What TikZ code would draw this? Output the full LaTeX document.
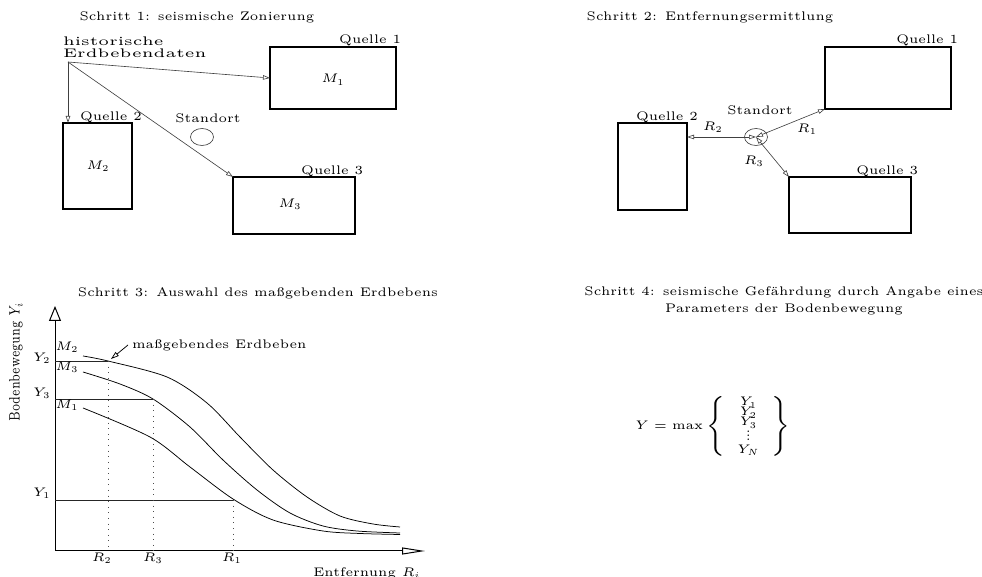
\RequirePackage{fix-cm}
\documentclass[tikz,border=0pt]{standalone}
\usepackage{graphicx}
\usetikzlibrary{arrows.meta,fit,shapes.geometric}
\DeclareMathSizes{5}{5}{3.6}{3}
\newcommand{\smvdots}{\vbox{\baselineskip1.7bp\lineskiplimit0pt\kern0.3bp\hbox{.}\hbox{.}\hbox{.}}}
\newcommand{\rowbox}[3]{\smash{#1}\rule[-#3]{0pt}{\dimexpr#2+#3\relax}}
\begin{document}
\begin{tikzpicture}[x=0.4bp,y=-0.4bp,
  every node/.style={font=\fontsize{5}{6.8}\selectfont, inner sep=0pt, outer sep=0pt},
  box/.style={draw, line width=0.45bp, inner sep=0pt},
  conn/.style={draw=black!75, line width=0.25bp, -{Triangle[open,length=2.8bp,width=1.8bp]}},
  dconn/.style={draw=black!75, line width=0.25bp, {Triangle[open,length=2.8bp,width=1.8bp]}-{Triangle[open,length=2.8bp,width=1.8bp]}},
  site/.style={draw=black!75, line width=0.25bp, ellipse, minimum width=9.2bp, minimum height=6.8bp},
  curve/.style={line width=0.3bp, smooth, tension=0.5},
  guide/.style={draw=black!70, line width=0.25bp, dotted},
  level/.style={draw=black!85, line width=0.3bp}]
\useasboundingbox (0,0) rectangle (982,577);

% ---------------- Panel 1 ----------------
\node (t1) at (197,17) {Schritt 1: seismische Zonierung};
\node[anchor=west, align=left, font=\fontsize{5}{4.8}\selectfont] (hist) at (63,47) {\scalebox{1.27}[1]{historische}\\\scalebox{1.27}[1]{Erdbebendaten}};
\coordinate (src) at (68,62);
\node[box, fit={(270,47) (396,109)}] (q1) {};
\node (m1) at (333,80) {$M_1$};
\node[anchor=base east] (lq1) at (401,44) {Quelle 1};
\node[box, fit={(63,123) (132,209)}] (q2) {};
\node (m2) at (98,166) {$M_2$};
\node[anchor=base west] (lq2) at (80,120.5) {Quelle 2};
\node[box, fit={(233,177) (355,234)}] (q3) {};
\node (m3) at (290,204) {$M_3$};
\node[anchor=base east] (lq3) at (363,175) {Quelle 3};
\node (s1) at (208,118) {Standort};
\node[site] (c1) at (202,137) {};
\draw[conn] (src) -- (q1.west);
\draw[conn] (src) -- (src |- q2.north);
\draw[conn] (src) -- (q3.north west);

% ---------------- Panel 2 ----------------
\node (t2) at (710,17) {Schritt 2: Entfernungsermittlung};
\node[box, fit={(825,47) (951,109)}] (p1) {};
\node[anchor=base east] (lp1) at (958,44) {Quelle 1};
\node[box, fit={(618,123) (687,210)}] (p2) {};
\node[anchor=base west] (lp2) at (636,121) {Quelle 2};
\node[box, fit={(789,177) (911,233)}] (p3) {};
\node[anchor=base east] (lp3) at (918,175) {Quelle 3};
\node (s2) at (760,110) {Standort};
\node[site] (c2) at (756,137) {};
\draw[dconn] (c2.center) -- (c2.center -| p2.east);
\draw[dconn] (c2.center) -- (p1.south west);
\draw[dconn] (c2.center) -- (p3.north west);
\node (r2) at (713,127) {$R_2$};
\node (r1) at (807,129) {$R_1$};
\node (r3) at (754,161) {$R_3$};

% ---------------- Panel 3 ----------------
\node (t3) at (258,293) {Schritt 3: Auswahl des maßgebenden Erdbebens};
\coordinate (O) at (55,551);
\coordinate (ytop) at (55,306);
\coordinate (xend) at (425,551);
\draw[line width=0.4bp, -{Triangle[open,length=6bp,width=4.8bp]}] (O) -- (ytop);
\draw[line width=0.4bp, -{Triangle[open,length=9.2bp,width=2.8bp]}] (O) -- (xend);
\node[rotate=90] (ylab) at (16,362) {\scalebox{0.85}[1.2]{Bodenbewegung $Y_i$}};
\node (xlab) at (367,573) {Entfernung $R_i$};

\draw[curve] plot coordinates {(83,356) (108,361) (167,377) (207,403) (240,437) (273,470) (307,497) (340,516) (373,524) (400,527)};
\draw[curve] plot coordinates {(83,372) (120,384) (153,399) (190,427) (223,460) (257,490) (290,513) (323,526) (357,531) (400,533)};
\draw[curve] plot coordinates {(83,408) (150,437) (190,467) (233,499) (273,520) (323,531) (360,533.5) (400,534.5)};

\draw[level] (55,361) -- (108,361);
\draw[level] (55,399) -- (153,399);
\draw[level] (55,500) -- (233,500);
\draw[guide] (108,361) -- (108,551);
\draw[guide] (153,399) -- (153,551);
\draw[guide] (233,500) -- (233,551);

\node (ly2) at (42,358) {$Y_2$};
\node (ly3) at (42,393) {$Y_3$};
\node (ly1) at (42,493) {$Y_1$};
\node (lm2) at (67,347) {$M_2$};
\node (lm3) at (67,367) {$M_3$};
\node (lm1) at (67,405) {$M_1$};
\node (lr2) at (102,558) {$R_2$};
\node (lr3) at (153,558) {$R_3$};
\node (lr1) at (232,558) {$R_1$};

\node[anchor=west] (mge) at (132,345) {maßgebendes Erdbeben};
\coordinate (mgetip) at (111,359);
\draw[line width=0.3bp, -{Triangle[open,length=3.2bp,width=2bp]}] ([xshift=-1.6bp]mge.west) -- (mgetip);

% ---------------- Panel 4 ----------------
\node[align=center] (t4) at (784,301) {Schritt 4: seismische Gefährdung durch Angabe eines\\Parameters der Bodenbewegung};
\node (f4) at (713,426) {$Y=\max\left\{\rule[-10.5bp]{0pt}{24bp}\renewcommand{\arraystretch}{0}\begin{array}{c}
 \rowbox{Y_1}{3.4bp}{2bp}\\
 \rowbox{Y_2}{2bp}{2bp}\\
 \rowbox{Y_3}{2bp}{2.5bp}\\
 \rowbox{\raisebox{-0.6bp}{$\smvdots$}}{3bp}{2.5bp}\\
 \rowbox{Y_N}{3bp}{1bp}
 \end{array}\right\}$};
\end{tikzpicture}
\end{document}
